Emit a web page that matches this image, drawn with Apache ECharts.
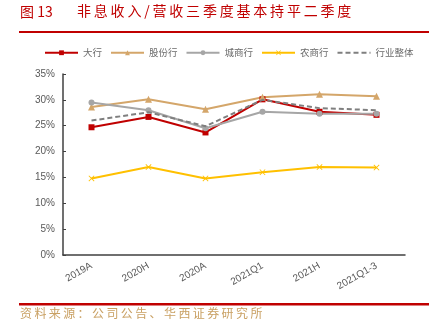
<!DOCTYPE html>
<html><head><meta charset="utf-8">
<script src="https://cdn.jsdelivr.net/npm/echarts@6/dist/echarts.min.js"></script>
<style>html,body{margin:0;padding:0;background:#fff}#c{width:430px;height:323px}</style>
</head><body><div id="c"></div>
<script>
const categories = ['2019A','2020H','2020A','2021Q1','2021H','2021Q1-3'];
const daHang = [24.7, 26.7, 23.7, 30.1, 27.7, 27.1];
const guFen = [28.6, 30.1, 28.2, 30.5, 31.1, 30.7];
const chengShang = [29.5, 28.0, 24.5, 27.7, 27.3, 27.3];
const nongShang = [14.8, 17.0, 14.8, 16.0, 17.0, 16.9];
const industry = [26.0, 27.6, 24.9, 30.0, 28.4, 28.0];
const yTicks = [0, 5, 10, 15, 20, 25, 30, 35];

const titleNo = '图 13';
const titleText = '非息收入/营收三季度基本持平二季度';
const sourceText = '资料来源：公司公告、华西证券研究所';
const spaced = (t, sp) => Array.from(t).join(sp);

const chart = echarts.init(document.getElementById('c'), null, {renderer:'canvas'});
const xPath = 'path://M0 1L1 0L5 4L9 0L10 1L6 5L10 9L9 10L5 6L1 10L0 9L4 5Z';
function s(name, data, color, symbol, size, dashed) {
  return {
    name, type:'line', data, symbol, symbolSize:size, showSymbol: !dashed,
    lineStyle:{color, width:2, type: dashed ? [5,3] : 'solid'},
    itemStyle:{color}, z: dashed ? 5 : 3
  };
}
const cjk = '"Noto Sans CJK SC", sans-serif';
chart.setOption({
  animation:false,
  textStyle:{fontFamily:cjk},
  graphic:[
    {type:'text', left:20, top:5, style:{text:titleNo, fill:'#C00000', fontSize:14, fontFamily:cjk}},
    {type:'text', left:77, top:4, style:{text:spaced(titleText,'\u2009'), fill:'#C00000', fontSize:14, fontFamily:cjk}},
    {type:'rect', shape:{x:19, y:31, width:410, height:2}, style:{fill:'#C00000'}},
    {type:'rect', shape:{x:19, y:303, width:410, height:2.5}, style:{fill:'#C00000'}},
    {type:'text', left:20, top:307, style:{text:spaced(sourceText,'\u2009'), fill:'#C9A063', fontSize:12, fontFamily:cjk}}
  ],
  legend:{
    top:43, left:39, itemWidth:33, itemHeight:6, itemGap:8,
    textStyle:{color:'#6b6b6b', fontSize:9.5},
    data:['大行','股份行','城商行','农商行',{name:'行业整体', itemStyle:{opacity:0}}]
  },
  grid:{left:63, right:25, top:74, bottom:68},
  xAxis:{
    type:'category', data:categories, boundaryGap:true,
    axisLine:{lineStyle:{color:'#404040', width:1.5}},
    axisTick:{inside:true, length:4, lineStyle:{color:'#404040'}},
    axisLabel:{rotate:30, color:'#595959', fontSize:10, margin:10, fontFamily:'"Liberation Sans", sans-serif'}
  },
  yAxis:{
    type:'value', min:0, max:35, interval:5,
    splitLine:{show:false},
    axisLine:{show:true, lineStyle:{color:'#404040', width:1.5}},
    axisTick:{show:true, inside:true, length:3, lineStyle:{color:'#404040'}},
    axisLabel:{color:'#595959', fontSize:10, margin:8, formatter:v=>v+'%', fontFamily:'"Liberation Sans", sans-serif'}
  },
  series:[
    s('大行', daHang, '#C00000', 'rect', 6),
    s('股份行', guFen, '#D4A66A', 'triangle', 7),
    s('城商行', chengShang, '#A6A6A6', 'circle', 6),
    s('农商行', nongShang, '#FFC000', xPath, 6),
    s('行业整体', industry, '#7F7F7F', 'none', 0, true)
  ]
});
</script></body></html>
